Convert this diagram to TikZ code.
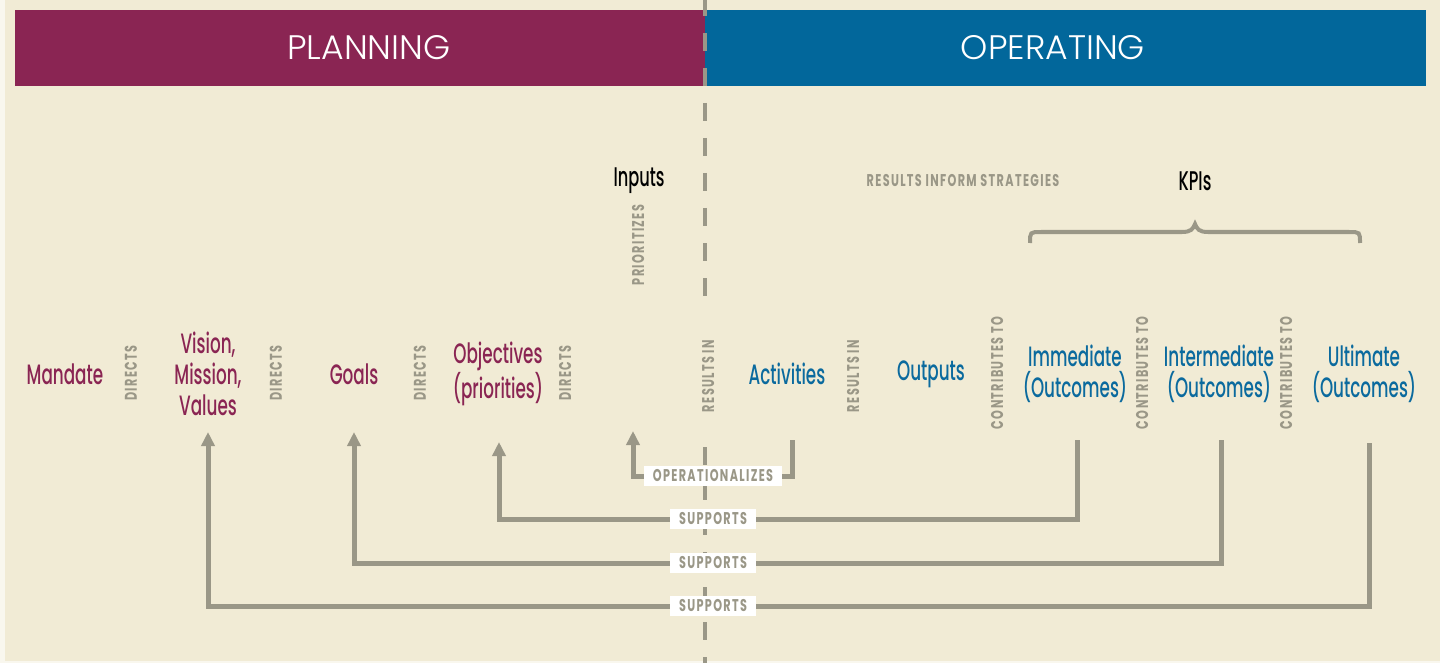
\documentclass[tikz,border=0pt]{standalone}
\usepackage{fontspec}
\setmainfont{Poppins}
\newfontfamily\lblfont[FakeStretch=0.6]{Poppins Medium}
\newfontfamily\headfont[FakeStretch=1.02]{Poppins Light}
\newfontfamily\smallfont[FakeStretch=0.66,LetterSpace=8]{Poppins Bold}
\usetikzlibrary{arrows.meta}
\definecolor{bgc}{HTML}{F1EBD5}
\definecolor{plum}{HTML}{8A2553}
\definecolor{opblue}{HTML}{02679B}
\definecolor{txtblue}{HTML}{0B6A9E}
\definecolor{lgray}{HTML}{9A9787}
\tikzset{
  banner/.style={fill=#1, draw=none},
  head/.style={text=white, font=\headfont\fontsize{34}{38}\selectfont},
  plan/.style={text=plum, align=center, font=\lblfont\fontsize{28}{31}\selectfont},
  oper/.style={text=txtblue, align=center, font=\lblfont\fontsize{28}{31}\selectfont},
  blk/.style={text=black, align=center, font=\lblfont\fontsize{27}{31}\selectfont},
  rel/.style={text=lgray, rotate=90, font=\smallfont\fontsize{17}{19}\selectfont},
  note/.style={text=lgray, font=\smallfont\fontsize{17}{19}\selectfont},
  tag/.style={fill=white, text=lgray, inner xsep=9pt, inner ysep=0pt, minimum height=20pt, font=\smallfont\fontsize{17}{19}\selectfont},
  conn/.style={draw=lgray, line width=5pt},
  arr/.style={conn, -{Triangle[width=13pt,length=14pt]}},
  divider/.style={draw=lgray, line width=4pt, dash pattern=on 18pt off 17pt},
}
\begin{document}
\begin{tikzpicture}[x=1pt,y=-1pt]
\useasboundingbox (0,0) rectangle (1440,663);
\fill[white!60!bgc] (0,0) rectangle (1440,663);
\fill[bgc] (5,0) rectangle (1440,661);
% banners
\path[banner=plum] (15,10) rectangle (705,86);
\path[banner=opblue] (705,10) rectangle (1426,86);
\node[head] (planning) at (369,48) {PLANNING};
\node[head] (operating) at (1053,48) {OPERATING};
% divider
\coordinate (divtop) at (705,-2);
\coordinate (divmid1) at (705,296);
\coordinate (divmid2) at (705,447);
\coordinate (divbot) at (705,663);
\draw[divider] (divtop) -- (divmid1);
\draw[divider] (divmid2) -- (divbot);
% top labels
\node[blk] (inputs) at (639,181) {Inputs};
\node[rel] (prio) at (638,245) {PRIORITIZES};
\node[note] (rinf) at (963,181) {RESULTS INFORM STRATEGIES};
\node[blk] (kpis) at (1195,181) {KPIs};
\draw[lgray, line width=4pt] (1030,243) .. controls (1030,232) .. (1041,232) -- (1182,232)
  .. controls (1191,232) and (1193,229) .. (1195,224)
  .. controls (1197,229) and (1199,232) .. (1208,232) -- (1349,232)
  .. controls (1360,232) .. (1360,243);
% main row
\node[plan] (mandate) at (65,374) {Mandate};
\node[rel] (d1) at (131,373) {DIRECTS};
\node[plan] (vision) at (208,374) {Vision,\\Mission,\\Values};
\node[rel] (d2) at (276,373) {DIRECTS};
\node[plan] (goals) at (354,374) {Goals};
\node[rel] (d3) at (420,373) {DIRECTS};
\node[plan] (obj) at (498,374) {Objectives\\(priorities)};
\node[rel] (d4) at (565,373) {DIRECTS};
\node[rel] (r1) at (708,376) {RESULTS IN};
\node[oper] (act) at (787,374) {Activities};
\node[rel] (r2) at (853,376) {RESULTS IN};
\node[oper] (outp) at (931,374) {Outputs};
\node[rel] (c1) at (997,373) {CONTRIBUTES TO};
\node[oper] (imm) at (1075,374) {Immediate\\(Outcomes)};
\node[rel] (c2) at (1142,373) {CONTRIBUTES TO};
\node[oper] (inter) at (1219,374) {Intermediate\\(Outcomes)};
\node[rel] (c3) at (1286,373) {CONTRIBUTES TO};
\node[oper] (ult) at (1364,374) {Ultimate\\(Outcomes)};
% connector ends
\coordinate (actB) at (792,440);
\coordinate (opT) at (633,431);
\coordinate (immB) at (1077,440);
\coordinate (objT) at (499,442);
\coordinate (interB) at (1221,440);
\coordinate (goalsT) at (354,432);
\coordinate (ultB) at (1369,443);
\coordinate (visT) at (208,432);
\coordinate (m0) at (713,476);
\coordinate (m1) at (713,519);
\coordinate (m2) at (713,563);
\coordinate (m3) at (713,606);
% connectors
\draw[arr] (actB) |- (m0) -| (opT);
\draw[arr] (immB) |- (m1) -| (objT);
\draw[arr] (interB) |- (m2) -| (goalsT);
\draw[arr] (ultB) |- (m3) -| (visT);
% connector labels
\node[tag] (t0) at (m0) {OPERATIONALIZES};
\node[tag] (t1) at (m1) {SUPPORTS};
\node[tag] (t2) at (m2) {SUPPORTS};
\node[tag] (t3) at (m3) {SUPPORTS};
\end{tikzpicture}
\end{document}
